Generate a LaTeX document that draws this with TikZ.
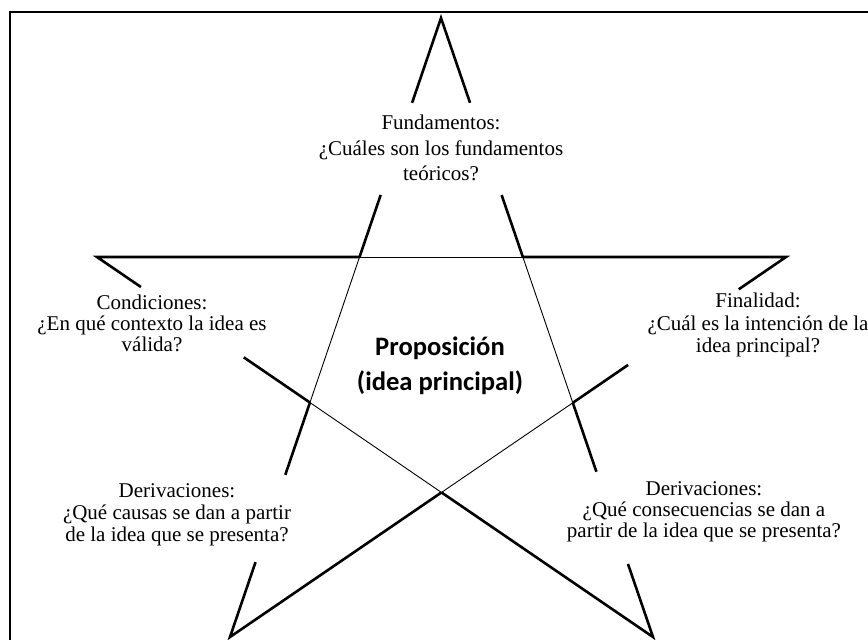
\documentclass[tikz,border=0pt]{standalone}
\usepackage{fontspec}
\setmainfont{Liberation Serif}
\newfontfamily\propfont{Carlito}
\usetikzlibrary{calc}

\begin{document}
\begin{tikzpicture}[x=0.5pt, y=-0.5pt,
    outer/.style={line width=1.3pt, line join=miter},
    inner/.style={line width=0.45pt},
    frame/.style={line width=1pt},
    txt/.style={align=center, inner sep=0pt, font=\fontsize{10.5}{11}\selectfont}]
    \useasboundingbox (0,0) rectangle (868,639);
    \clip (0,0) rectangle (868,639);
    \draw [frame] (10,660) -- (10,12) -- (890,12);

    % Star points {T, L, R, BL, BR}
    \coordinate (T)  at (441,18);
    \coordinate (L)  at (97,257);
    \coordinate (R)  at (786,257);
    \coordinate (BL) at (230,637);
    \coordinate (BR) at (653,637);

    % Inner pentagon
    \coordinate (pA) at (intersection of T--BL and L--R);
    \coordinate (pB) at (intersection of T--BR and L--R);
    \coordinate (pC) at (intersection of T--BR and R--BL);
    \coordinate (pD) at (intersection of L--BR and R--BL);
    \coordinate (pE) at (intersection of T--BL and L--BR);

    % Gaps for the texts
    \coordinate (g1) at ($(T)!0.137!(BL)$);
    \coordinate (g2) at ($(T)!0.286!(BL)$);
    \coordinate (g3) at ($(T)!0.738!(BL)$);
    \coordinate (g4) at ($(T)!0.879!(BL)$);
    \coordinate (h1) at ($(T)!0.137!(BR)$);
    \coordinate (h2) at ($(T)!0.286!(BR)$);
    \coordinate (h3) at ($(T)!0.733!(BR)$);
    \coordinate (h4) at ($(T)!0.882!(BR)$);
    \coordinate (k1) at ($(L)!0.079!(BR)$);
    \coordinate (k2) at ($(L)!0.264!(BR)$);
    \coordinate (m1) at ($(R)!0.085!(BL)$);
    \coordinate (m2) at ($(R)!0.284!(BL)$);

    % Texts
    \node [txt, font=\fontsize{10.5}{12.75}\selectfont] (fund) at (441,148)
        {Fundamentos:\\¿Cuáles son los fundamentos\\teóricos?};
    \node [txt, font=\fontsize{10.5}{10.5}\selectfont] (cond) at (152,323)
        {Condiciones:\\¿En qué contexto la idea es\\válida?};
    \node [txt, font=\fontsize{10.5}{11.25}\selectfont] (fin) at (758,325)
        {Finalidad:\\¿Cuál es la intención de la\\idea principal?};
    \node [txt, font=\propfont\bfseries\fontsize{13.3}{17.5}\selectfont] (prop) at (440,366)
        {Proposición\\(idea principal)};
    \node [txt] (derA) at (177,515)
        {Derivaciones:\\¿Qué causas se dan a partir\\de la idea que se presenta?};
    \node [txt, font=\fontsize{10.5}{10.5}\selectfont] (derB) at (704,512)
        {Derivaciones:\\¿Qué consecuencias se dan a\\partir de la idea que se presenta?};

    % Tips
    \draw [outer] (g1) -- (T) -- (h1);
    \draw [outer] (k1) -- (L) -- (pA);
    \draw [outer] (m1) -- (R) -- (pB);
    \draw [outer] (g4) -- (BL) -- (pD);
    \draw [outer] (h4) -- (BR) -- (pD);

    % Arms
    \path [outer] (g2) edge (pA) (h2) edge (pB);
    \path [outer] (pE) edge (g3) (pC) edge (h3);
    \path [outer] (k2) edge (pE) (m2) edge (pC);

    % Inner pentagon lines
    \path [inner] (pA) edge (pB) (pB) edge (pC) (pC) edge (pD)
                  (pD) edge (pE) (pE) edge (pA);
\end{tikzpicture}
\end{document}
